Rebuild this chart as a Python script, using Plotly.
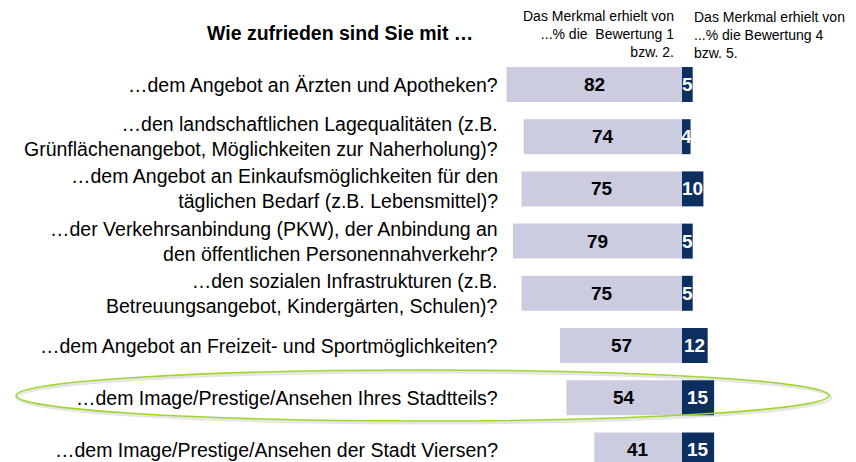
import plotly.graph_objects as go

# ---- data ----
labels = [
    "…dem Angebot an Ärzten und Apotheken?",
    "…den landschaftlichen Lagequalitäten (z.B.<br>Grünflächenangebot, Möglichkeiten zur Naherholung)?",
    "…dem Angebot an Einkaufsmöglichkeiten für den<br>täglichen Bedarf (z.B. Lebensmittel)?",
    "…der Verkehrsanbindung (PKW), der Anbindung an<br>den öffentlichen Personennahverkehr?",
    "…den sozialen Infrastrukturen (z.B.<br>Betreuungsangebot, Kindergärten, Schulen)?",
    "…dem Angebot an Freizeit- und Sportmöglichkeiten?",
    "…dem Image/Prestige/Ansehen Ihres Stadtteils?",
    "…dem Image/Prestige/Ansehen der Stadt Viersen?",
]
positive = [82, 74, 75, 79, 75, 57, 54, 41]   # Bewertung 1 bzw. 2
negative = [5, 4, 10, 5, 5, 12, 15, 15]       # Bewertung 4 bzw. 5

title_text = "Wie zufrieden sind Sie mit …"
head_pos = "Das Merkmal erhielt von<br>...% die\u00a0 Bewertung 1<br>bzw. 2."
head_neg = "Das Merkmal erhielt von<br>...% die Bewertung 4<br>bzw. 5."

# ---- layout constants ----
W, H = 856, 462
FONT = "Liberation Sans, Arial, sans-serif"
LIGHT = "#cbcce0"
DARK = "#0c2f5f"
center_px = 682
px_per_unit = 2.14
row0_px = 84.5
row_step = 52.2

x_range = [-center_px / px_per_unit, (W - center_px) / px_per_unit]
y_top = -row0_px / row_step
y_bot = (H - row0_px) / row_step

idx = list(range(len(labels)))

fig = go.Figure()
fig.add_trace(go.Bar(
    y=idx, x=[-v for v in positive], orientation="h",
    marker=dict(color=LIGHT, line=dict(width=0)), width=0.67,
    hoverinfo="skip", showlegend=False,
))
fig.add_trace(go.Bar(
    y=idx, x=negative, orientation="h",
    marker=dict(color=DARK, line=dict(width=0)), width=0.67,
    hoverinfo="skip", showlegend=False,
))

annotations = []
label_x = (500 - center_px) / px_per_unit
for i, lab in enumerate(labels):
    annotations.append(dict(
        x=label_x, y=i, xref="x", yref="y", text=lab, showarrow=False,
        xanchor="right", yanchor="middle", align="right",
        font=dict(family=FONT, size=19.5, color="#000000"),
    ))
    annotations.append(dict(
        x=-positive[i] / 2, y=i, xref="x", yref="y", text=f"<b>{positive[i]}</b>",
        showarrow=False, xanchor="center", yanchor="middle",
        font=dict(family=FONT, size=19, color="#000000"),
    ))
    annotations.append(dict(
        x=negative[i] / 2, y=i, xref="x", yref="y", text=f"<b>{negative[i]}</b>",
        showarrow=False, xanchor="center", yanchor="middle",
        font=dict(family=FONT, size=19, color="#ffffff"),
    ))

annotations.append(dict(
    x=340 / W, y=1 - 33 / H, xref="paper", yref="paper", text=f"<b>{title_text}</b>",
    showarrow=False, xanchor="center", yanchor="middle",
    font=dict(family=FONT, size=19.5, color="#000000"),
))
annotations.append(dict(
    x=676 / W, y=1 - 34 / H, xref="paper", yref="paper", text=head_pos,
    showarrow=False, xanchor="right", yanchor="middle", align="right",
    font=dict(family=FONT, size=14, color="#000000"),
))
annotations.append(dict(
    x=692 / W, y=1 - 35 / H, xref="paper", yref="paper", text=head_neg,
    showarrow=False, xanchor="left", yanchor="middle", align="left",
    font=dict(family=FONT, size=14, color="#000000"),
))

shapes = [
    # soft shadow of the highlight ellipse
    dict(type="circle", xref="paper", yref="paper",
         x0=17 / W, x1=831 / W, y0=1 - 423 / H, y1=1 - 372 / H,
         line=dict(color="rgba(0,0,0,0.10)", width=3), layer="below"),
    dict(type="circle", xref="paper", yref="paper",
         x0=16 / W, x1=829 / W, y0=1 - 421 / H, y1=1 - 370 / H,
         line=dict(color="#9fd62a", width=1.6)),
]

fig.update_layout(
    width=W, height=H,
    margin=dict(l=0, r=0, t=0, b=0),
    paper_bgcolor="#ffffff", plot_bgcolor="#ffffff",
    barmode="overlay",
    xaxis=dict(range=x_range, visible=False, fixedrange=True),
    yaxis=dict(range=[y_bot, y_top], visible=False, fixedrange=True),
    annotations=annotations,
    shapes=shapes,
    showlegend=False,
)

fig.write_html(
    "out.html",
    config={"displayModeBar": False},
    post_script="document.body.style.margin='0';document.body.style.overflow='hidden';",
)
